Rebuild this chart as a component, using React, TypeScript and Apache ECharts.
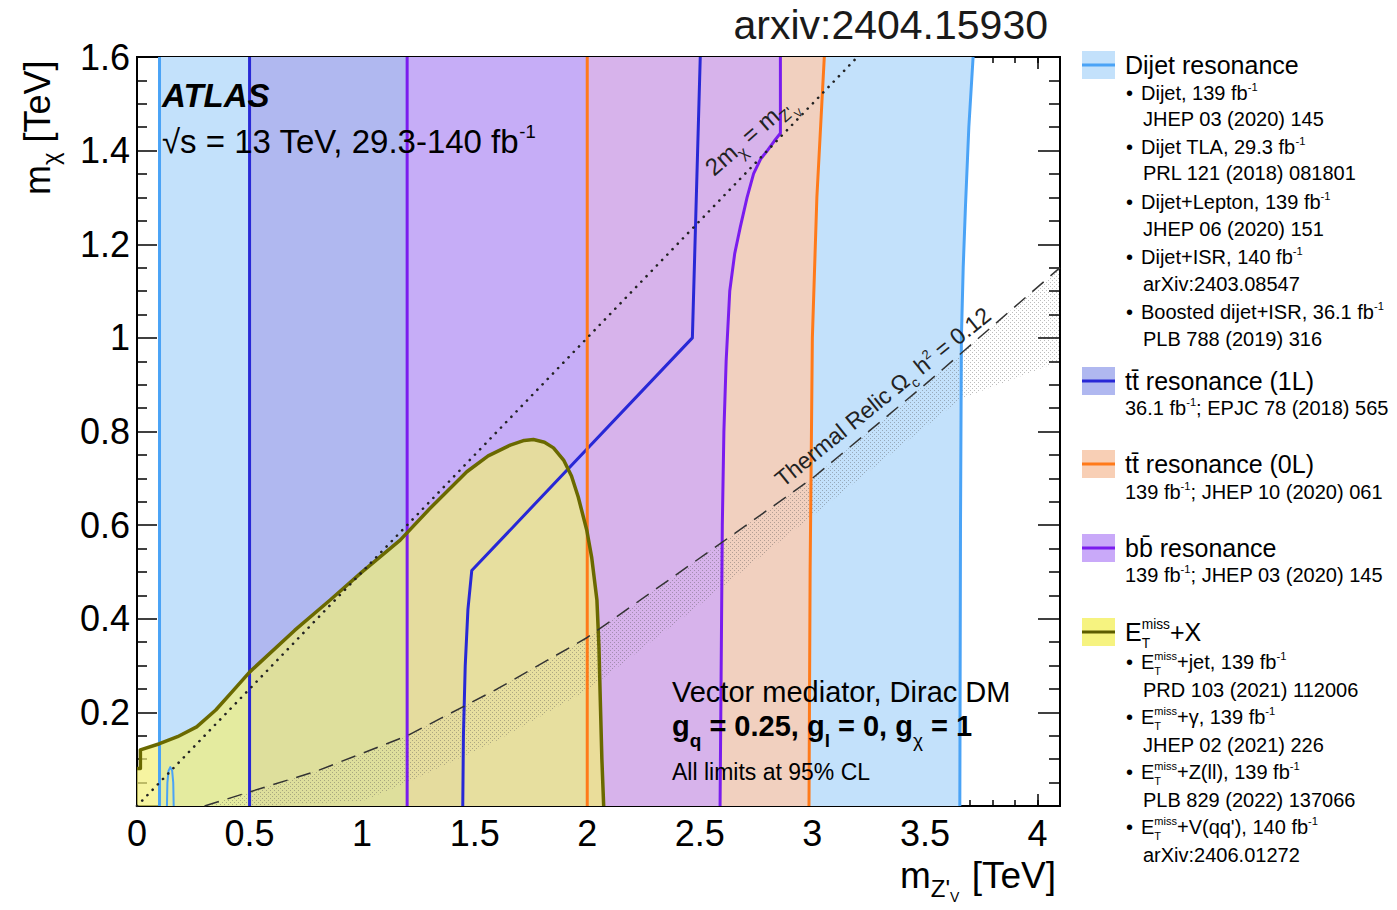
import React, { useEffect, useRef } from 'react';
import * as echarts from 'echarts';

const W = 1397;
const H = 910;
const FF = '"Liberation Sans", Arial, Helvetica, sans-serif';

// ---------------- axes ----------------
const X_MIN = 0;
const X_MAX = 4.1;
const X_MAJOR = 0.5;
const X_MINOR = 0.1;
const Y_MIN = 0;
const Y_MAX = 1.6;
const Y_MAJOR = 0.2;
const Y_MINOR_SPLIT = 4;

// ---------------- exclusion contours: [m_Z'V (TeV), m_chi (TeV)] ----------------
const dijetLeft = [[0.1, 0], [0.1, 1.6]];
const dijetRight = [[3.655, 0], [3.658, 0.6], [3.662, 1.0], [3.67, 1.15], [3.68, 1.28], [3.695, 1.45], [3.714, 1.6]];
const dijetIsr = [[0.133, 0], [0.135, 0.05], [0.14, 0.075], [0.148, 0.083], [0.156, 0.076], [0.161, 0.05], [0.163, 0]];

const ttbar1LLeft = [[0.5, 0], [0.5, 1.6]];
const ttbar1LRight = [[1.447, 0], [1.45, 0.15], [1.458, 0.3], [1.47, 0.42], [1.487, 0.503], [2.467, 1.0], [2.502, 1.6]];

const ttbar0LLeft = [[2.0, 0], [2.0, 1.6]];
const ttbar0LRight = [[2.985, 0], [2.99, 0.5], [3.0, 1.0], [3.02, 1.3], [3.053, 1.6]];

const bbLeft = [[1.2, 0], [1.2, 1.6]];
const bbRight = [[2.59, 0], [2.595, 0.3], [2.6, 0.6], [2.607, 0.8], [2.617, 0.95], [2.633, 1.1], [2.655, 1.18], [2.68, 1.237], [2.71, 1.3], [2.739, 1.351], [2.77, 1.382], [2.8, 1.4], [2.83, 1.42], [2.858, 1.437], [2.858, 1.6]];

const metContour = [[0, 0.08], [0.015, 0.08], [0.015, 0.12], [0.1, 0.133], [0.18, 0.148], [0.265, 0.169], [0.35, 0.205], [0.43, 0.248], [0.5, 0.286], [0.7, 0.375], [0.858, 0.44], [1.0, 0.5], [1.169, 0.568], [1.3, 0.635], [1.465, 0.714], [1.56, 0.748], [1.658, 0.771], [1.72, 0.781], [1.761, 0.783], [1.81, 0.777], [1.85, 0.765], [1.895, 0.739], [1.93, 0.705], [1.96, 0.66], [1.998, 0.589], [2.02, 0.53], [2.043, 0.44], [2.052, 0.34], [2.058, 0.226], [2.065, 0.1], [2.073, 0]];

const twoMchiLine = [[0, 0], [3.2, 1.6]];
const relicLine = [[0.3, 0], [0.5, 0.03], [0.8, 0.075], [1.2, 0.15], [1.6, 0.25], [2.0, 0.36], [2.56, 0.55], [3.0, 0.7], [3.5, 0.9], [4.1, 1.15]];
const relicBandLow = [[0.5, 0], [1.0, 0.01], [1.2, 0.05], [1.6, 0.14], [2.0, 0.247], [2.5, 0.43], [3.0, 0.62], [3.66, 0.87], [4.1, 0.95]];

// ---------------- colours ----------------
const C = {
  dijetFill: '#c3e1fb', dijetLine: '#4aa3f6',
  tt1LFill: '#b0b8f0', tt1LLine: '#2828d6',
  tt0LFill: '#f1d0bf', tt0LLine: '#ff7a1a',
  bbFill: 'rgba(205,170,250,0.75)', bbLine: '#7a1cee',
  metFill: 'rgba(242,240,120,0.7)', metLine: '#6a6900',
};

type Seg = { t: string; s?: number; bl?: number; w?: string; i?: boolean; stack?: boolean; dx?: number };

let mctx: CanvasRenderingContext2D | null = null;
function fontStr(size: number, w?: string, it?: boolean) {
  return `${it ? 'italic ' : ''}${w || 'normal'} ${size}px ${FF}`;
}
function measure(t: string, size: number, w?: string, it?: boolean) {
  if (!mctx) mctx = document.createElement('canvas').getContext('2d');
  mctx!.font = fontStr(size, w, it);
  return mctx!.measureText(t).width;
}
function run(x: number, y: number, segs: Seg[], base: number, color = '#000', z = 100): any[] {
  const out: any[] = [];
  let cx = x;
  let stackW = 0;
  for (const sg of segs) {
    const size = sg.s ?? base;
    cx += sg.dx ?? 0;
    const w = measure(sg.t, size, sg.w, sg.i);
    out.push({
      type: 'text', x: cx, y: y + (sg.bl ?? 0) - 0.35 * size, z, silent: true,
      style: {
        text: sg.t, fill: color, fontSize: size, fontFamily: FF,
        fontWeight: sg.w || 'normal', fontStyle: sg.i ? 'italic' : 'normal',
        align: 'left', verticalAlign: 'middle', textAlign: 'left', textVerticalAlign: 'middle',
      },
    });
    if (sg.stack) {
      stackW = w;
    } else {
      cx += Math.max(w, stackW);
      stackW = 0;
    }
  }
  return out;
}

function polySeries(name: string, pts: number[][], fill: any, z: number) {
  return {
    type: 'custom', name, coordinateSystem: 'cartesian2d', xAxisIndex: 0, yAxisIndex: 0,
    data: pts, z, silent: true, clip: true, animation: false,
    renderItem: (params: any, api: any) => {
      if (params.dataIndex !== 0) return null;
      const points = pts.map((p) => api.coord(p));
      return { type: 'polygon', shape: { points }, style: { fill, stroke: 'none' } };
    },
  };
}
function lineSeries(name: string, pts: number[][], color: string, width: number, z: number, type: any = 'solid', cap = 'butt') {
  return {
    type: 'line', name, data: pts, xAxisIndex: 0, yAxisIndex: 0, showSymbol: false, symbol: 'none',
    lineStyle: { color, width, type, cap, join: 'round' }, z, silent: true, clip: true, animation: false,
  };
}

function dotPattern() {
  const c = document.createElement('canvas');
  c.width = 4; c.height = 4;
  const g = c.getContext('2d')!;
  g.fillStyle = 'rgba(80,80,80,0.38)';
  g.fillRect(0, 0, 1, 1);
  g.fillRect(2, 2, 1, 1);
  return { image: c, repeat: 'repeat', imageWidth: 4, imageHeight: 4 };
}

function legendSwatch(yc: number, fill: string, line: string) {
  return [
    { type: 'rect', z: 100, silent: true, shape: { x: 1082, y: yc - 14, width: 33, height: 28 }, style: { fill } },
    { type: 'line', z: 101, silent: true, shape: { x1: 1082, y1: yc, x2: 1115, y2: yc }, style: { stroke: line, lineWidth: 3 } },
  ];
}

function buildOption() {
  const fx = (v: number) => {
    const k = Math.round(v / X_MAJOR);
    return Math.abs(v - k * X_MAJOR) < 1e-6 && v <= 4.0001 ? String(k * X_MAJOR) : '';
  };
  const fy = (v: number) => (v < 1e-6 ? '' : String(Math.round(v * 10) / 10));
  const axLine = { show: true, onZero: false, lineStyle: { color: '#000', width: 2 } };
  const tickStyle = { color: '#000', width: 1.5 };
  const xAxisBase = { type: 'value', min: X_MIN, max: X_MAX, splitLine: { show: false }, axisLine: axLine };
  const yAxisBase = { type: 'value', min: Y_MIN, max: Y_MAX, interval: Y_MAJOR, splitLine: { show: false }, axisLine: axLine };

  const T = 25; // legend title size
  const S = 20; // legend sub size
  const sup = (t: string, b = S) => ({ t, s: b * 0.56, bl: -b * 0.45 });
  const etmiss = (b: number): Seg[] => [
    { t: 'E' },
    { t: 'T', s: b * 0.55, bl: b * 0.3, stack: true },
    { t: 'miss', s: b * 0.55, bl: -b * 0.48 },
  ];
  const bullet = (yc: number, segs: Seg[]) => [
    ...run(1126, yc + 7, [{ t: '•' }], S),
    ...run(1141, yc + 7, segs, S),
  ];
  const cont = (yc: number, text: string) => run(1143, yc + 7, [{ t: text }], S);

  const graphic: any[] = [
    // title
    { type: 'text', z: 100, silent: true, x: 1048, y: 25, style: { text: 'arxiv:2404.15930', fill: '#1a1a1a', fontSize: 41, fontFamily: FF, align: 'right', verticalAlign: 'middle', textAlign: 'right', textVerticalAlign: 'middle' } },
    // ATLAS labels
    ...run(162, 107, [{ t: 'ATLAS', w: 'bold', i: true }], 33),
    ...run(162, 153, [{ t: '√s = 13 TeV, 29.3-140 fb' }, sup('-1', 33)], 33),
    // model labels
    ...run(672, 702, [{ t: 'Vector mediator, Dirac DM' }], 29),
    ...run(672, 736, [
      { t: 'g', w: 'bold' }, { t: 'q', s: 19, bl: 11, w: 'bold' },
      { t: ' = 0.25, g', w: 'bold' }, { t: 'l', s: 19, bl: 11, w: 'bold' },
      { t: ' = 0, g', w: 'bold' }, { t: 'χ', s: 19, bl: 11 },
      { t: ' = 1', w: 'bold' },
    ], 29),
    ...run(672, 780, [{ t: 'All limits at 95% CL' }], 23),
    // axis titles
    { type: 'group', x: 50, y: 195, rotation: Math.PI / 2, silent: true, children: run(0, 0, [{ t: 'm' }, { t: 'χ', s: 24, bl: 9 }, { t: ' [TeV]' }], 36) },
    ...run(900, 888, [{ t: 'm' }, { t: "Z'", s: 24, bl: 9 }, { t: 'V', s: 14, bl: 14 }, { t: ' [TeV]', dx: 2 }], 37),
    // line labels
    { type: 'group', x: 714, y: 177, rotation: 41 * Math.PI / 180, silent: true, children: run(0, 0, [{ t: '2m' }, { t: 'χ', s: 16, bl: 6 }, { t: ' = m' }, { t: "Z'", s: 16, bl: 6 }, { t: 'V', s: 11, bl: 11 }], 24, '#222') },
    { type: 'group', x: 783, y: 488, rotation: 39 * Math.PI / 180, silent: true, children: run(0, 0, [{ t: 'Thermal Relic Ω' }, { t: 'c', s: 14, bl: 6 }, { t: ' h' }, { t: '2', s: 13, bl: -9 }, { t: ' = 0.12' }], 23, '#222') },
    // legend: dijet
    ...legendSwatch(65, C.dijetFill, C.dijetLine),
    ...run(1125, 74, [{ t: 'Dijet resonance' }], T),
    ...bullet(93, [{ t: 'Dijet, 139 fb' }, sup('-1')]),
    ...cont(119, 'JHEP 03 (2020) 145'),
    ...bullet(147, [{ t: 'Dijet TLA, 29.3 fb' }, sup('-1')]),
    ...cont(173, 'PRL 121 (2018) 081801'),
    ...bullet(202, [{ t: 'Dijet+Lepton, 139 fb' }, sup('-1')]),
    ...cont(229, 'JHEP 06 (2020) 151'),
    ...bullet(257, [{ t: 'Dijet+ISR, 140 fb' }, sup('-1')]),
    ...cont(284, 'arXiv:2403.08547'),
    ...bullet(312, [{ t: 'Boosted dijet+ISR, 36.1 fb' }, sup('-1')]),
    ...cont(339, 'PLB 788 (2019) 316'),
    // legend: ttbar 1L
    ...legendSwatch(381, C.tt1LFill, C.tt1LLine),
    ...run(1125, 390, [{ t: 'tt\u0304 resonance (1L)' }], T),
    ...run(1125, 415, [{ t: '36.1 fb' }, sup('-1'), { t: '; EPJC 78 (2018) 565' }], S),
    // legend: ttbar 0L
    ...legendSwatch(464, '#f8cfb5', C.tt0LLine),
    ...run(1125, 473, [{ t: 'tt\u0304 resonance (0L)' }], T),
    ...run(1125, 499, [{ t: '139 fb' }, sup('-1'), { t: '; JHEP 10 (2020) 061' }], S),
    // legend: bb
    ...legendSwatch(548, '#c9a9f9', C.bbLine),
    ...run(1125, 557, [{ t: 'bb\u0304 resonance' }], T),
    ...run(1125, 582, [{ t: '139 fb' }, sup('-1'), { t: '; JHEP 03 (2020) 145' }], S),
    // legend: MET+X
    ...legendSwatch(632, '#f6f380', '#5c5c00'),
    ...run(1125, 641, [...etmiss(T), { t: '+X' }], T),
    ...bullet(662, [...etmiss(S), { t: '+jet, 139 fb' }, sup('-1')]),
    ...cont(690, 'PRD 103 (2021) 112006'),
    ...bullet(717, [...etmiss(S), { t: '+γ, 139 fb' }, sup('-1')]),
    ...cont(745, 'JHEP 02 (2021) 226'),
    ...bullet(772, [...etmiss(S), { t: '+Z(ll), 139 fb' }, sup('-1')]),
    ...cont(800, 'PLB 829 (2022) 137066'),
    ...bullet(827, [...etmiss(S), { t: "+V(qq'), 140 fb" }, sup('-1')]),
    ...cont(855, 'arXiv:2406.01272'),
  ];

  const relicBand = [...relicLine, ...relicBandLow.slice().reverse()];

  return {
    animation: false,
    backgroundColor: '#fff',
    grid: { left: 137, top: 57, width: 923, height: 749, containLabel: false },
    xAxis: [
      { ...xAxisBase, position: 'bottom', interval: X_MAJOR,
        axisTick: { show: true, inside: true, length: 12, lineStyle: tickStyle },
        axisLabel: { show: true, margin: 9, fontSize: 36, color: '#000', fontFamily: FF, formatter: fx, showMaxLabel: false } },
      { ...xAxisBase, position: 'bottom', interval: X_MINOR,
        axisTick: { show: true, inside: true, length: 6, lineStyle: tickStyle }, axisLabel: { show: false } },
      { ...xAxisBase, position: 'top', interval: X_MAJOR,
        axisTick: { show: true, inside: true, length: 12, lineStyle: tickStyle }, axisLabel: { show: false } },
      { ...xAxisBase, position: 'top', interval: X_MINOR,
        axisTick: { show: true, inside: true, length: 6, lineStyle: tickStyle }, axisLabel: { show: false } },
    ],
    yAxis: [
      { ...yAxisBase, position: 'left',
        axisTick: { show: true, inside: true, length: 20, lineStyle: tickStyle },
        minorTick: { show: true, splitNumber: Y_MINOR_SPLIT, length: 10, lineStyle: tickStyle },
        axisLabel: { show: true, margin: 7, fontSize: 36, color: '#000', fontFamily: FF, formatter: fy } },
      { ...yAxisBase, position: 'right',
        axisTick: { show: true, inside: true, length: 22, lineStyle: tickStyle },
        minorTick: { show: true, splitNumber: Y_MINOR_SPLIT, length: 11, lineStyle: tickStyle },
        axisLabel: { show: false } },
    ],
    series: [
      polySeries('Dijet resonance', [...dijetLeft, ...dijetRight.slice().reverse()], C.dijetFill, 1),
      polySeries('ttbar 1L', [...ttbar1LLeft, ...ttbar1LRight.slice().reverse()], C.tt1LFill, 2),
      polySeries('ttbar 0L', [...ttbar0LLeft, ...ttbar0LRight.slice().reverse()], C.tt0LFill, 3),
      polySeries('bb resonance', [...bbLeft, ...bbRight.slice().reverse()], C.bbFill, 4),
      polySeries('MET+X', [[0, 0], ...metContour], C.metFill, 5),
      polySeries('Thermal relic band', relicBand, dotPattern(), 6),
      lineSeries('dijet left', dijetLeft, C.dijetLine, 3, 10),
      lineSeries('dijet right', dijetRight, C.dijetLine, 3, 10),
      lineSeries('dijet ISR', dijetIsr, C.dijetLine, 2, 10),
      lineSeries('tt1L left', ttbar1LLeft, C.tt1LLine, 3, 11),
      lineSeries('tt1L right', ttbar1LRight, C.tt1LLine, 3, 11),
      lineSeries('tt0L left', ttbar0LLeft, C.tt0LLine, 3, 12),
      lineSeries('tt0L right', ttbar0LRight, C.tt0LLine, 3, 12),
      lineSeries('bb left', bbLeft, C.bbLine, 3, 13),
      lineSeries('bb right', bbRight, C.bbLine, 3, 13),
      lineSeries('MET contour', metContour, C.metLine, 3.5, 14),
      lineSeries('2mchi = mZ', twoMchiLine, '#222', 2.6, 15, [0.1, 7.4], 'round'),
      lineSeries('Thermal relic', relicLine, '#333', 1.5, 15, [15, 9]),
    ],
    graphic,
  };
}

export default function App() {
  const ref = useRef<HTMLDivElement>(null);
  useEffect(() => {
    const chart = echarts.init(ref.current!, null, { renderer: 'svg', width: W, height: H });
    chart.setOption(buildOption() as any);
    return () => chart.dispose();
  }, []);
  return <div ref={ref} style={{ position: 'fixed', left: 0, top: 0, width: W, height: H, background: '#fff' }} />;
}
